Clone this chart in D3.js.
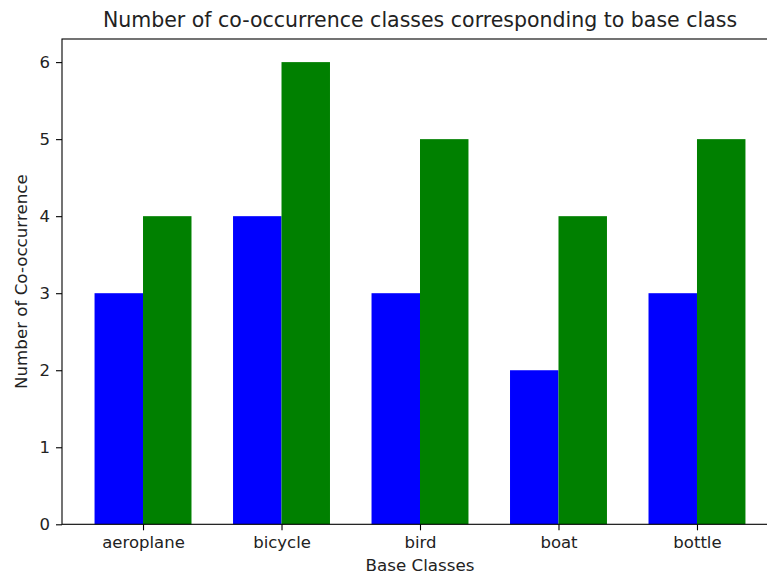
<!DOCTYPE html>
<html>
<head>
<meta charset="utf-8">
<script src="https://cdnjs.cloudflare.com/ajax/libs/d3/7.8.5/d3.min.js"></script>
<style>
  body { margin: 0; background: #fff; }
  svg { display: block; font-family: "DejaVu Sans", sans-serif; }
</style>
</head>
<body>
<script>
var categories = ["aeroplane", "bicycle", "bird", "boat", "bottle"];
var blueValues = [3, 4, 3, 2, 3];
var greenValues = [4, 6, 5, 4, 5];
var yTicks = [0, 1, 2, 3, 4, 5, 6];

var width = 767,
  height = 575;

// axes box (right edge falls outside the picture, like the reference)
var margin = { top: 39, left: 62, bottom: 524.3, right: 778 };
var barWidth = 0.35;

var svg = d3.select("body")
  .append("svg")
  .attr("width", width)
  .attr("height", height);

var x = d3.scaleLinear()
  .domain([-0.585, categories.length - 1 + 0.585])
  .range([margin.left, margin.right]);

var y = d3.scaleLinear()
  .domain([0, 6.3])
  .range([margin.bottom, margin.top]);

var bars = svg.append("g").attr("class", "bars");

bars.selectAll("rect.blue")
  .data(blueValues)
  .enter().append("rect")
  .attr("class", "blue")
  .attr("x", function (d, i) { return x(i - barWidth); })
  .attr("width", function (d, i) { return x(i) - x(i - barWidth); })
  .attr("y", function (d) { return y(d); })
  .attr("height", function (d) { return y(0) - y(d); })
  .style("fill", "#0000ff");

bars.selectAll("rect.green")
  .data(greenValues)
  .enter().append("rect")
  .attr("class", "green")
  .attr("x", function (d, i) { return x(i); })
  .attr("width", function (d, i) { return x(i + barWidth) - x(i); })
  .attr("y", function (d) { return y(d); })
  .attr("height", function (d) { return y(0) - y(d); })
  .style("fill", "#008000");

// x axis
var xAxis = d3.axisBottom(x)
  .tickValues(d3.range(categories.length))
  .tickFormat(function (d) { return categories[d]; })
  .tickSize(6)
  .tickPadding(6);

var gx = svg.append("g")
  .attr("transform", "translate(0," + margin.bottom + ")")
  .call(xAxis);

// y axis
var yAxis = d3.axisLeft(y)
  .tickValues(yTicks)
  .tickFormat(d3.format("d"))
  .tickSize(6)
  .tickPadding(6);

var gy = svg.append("g")
  .attr("transform", "translate(" + margin.left + ",0)")
  .call(yAxis);

[gx, gy].forEach(function (g) {
  g.select(".domain").remove();
  g.selectAll(".tick line").attr("stroke", "#000").attr("stroke-width", 1.1);
  g.selectAll(".tick text")
    .attr("fill", "#222")
    .style("font-size", "16.5px")
    .style("font-family", "DejaVu Sans");
});
gx.selectAll(".tick text").attr("dy", "0.72em");

// frame
svg.append("rect")
  .attr("x", margin.left)
  .attr("y", margin.top)
  .attr("width", margin.right - margin.left)
  .attr("height", margin.bottom - margin.top)
  .attr("fill", "none")
  .attr("stroke", "#000")
  .attr("stroke-width", 1.1);

// title and axis labels
svg.append("text")
  .attr("x", (margin.left + margin.right) / 2)
  .attr("y", 27)
  .attr("text-anchor", "middle")
  .style("font-size", "20.5px")
  .attr("fill", "#222")
  .text("Number of co-occurrence classes corresponding to base class");

svg.append("text")
  .attr("x", (margin.left + margin.right) / 2)
  .attr("y", 571)
  .attr("text-anchor", "middle")
  .style("font-size", "16.7px")
  .attr("fill", "#222")
  .text("Base Classes");

svg.append("text")
  .attr("transform", "translate(27," + (margin.top + margin.bottom) / 2 + ") rotate(-90)")
  .attr("text-anchor", "middle")
  .style("font-size", "16.7px")
  .attr("fill", "#222")
  .text("Number of Co-occurrence");
</script>
</body>
</html>
